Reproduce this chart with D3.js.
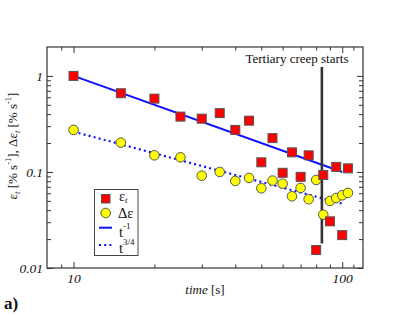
<!DOCTYPE html>
<html>
<head>
<meta charset="utf-8">
<script src="https://cdn.jsdelivr.net/npm/d3@7"></script>
<style>
  body { margin: 0; background: #fff; }
  svg { display: block; }
</style>
</head>
<body>
<svg id="chart" width="409" height="316"></svg>
<script>
// time [s]
const times = [10, 15, 20, 25, 30, 35, 40, 45, 50, 55, 60, 65, 70, 75, 80, 85, 90, 95, 100, 105];
// strain rate eps_t
const epsRate = [1.0, 0.66, 0.58, 0.377, 0.359, 0.41, 0.274, 0.342, 0.126, 0.225,
                 0.098, 0.16, 0.089, 0.149, 0.0154, 0.093, 0.0306, 0.113, 0.022, 0.109];
// delta eps
const deltaEps = [0.274, 0.202, 0.149, 0.142, 0.0915, 0.1, 0.0806, 0.0866, 0.0676, 0.0813,
                  0.0755, 0.0558, 0.0682, 0.052, 0.0826, 0.0359, 0.0499, 0.0536, 0.0572, 0.0605];
// fitted power laws (end points)
const fitMinusOne = [[10, 1.0], [100, 0.1]];
const fitThreeQuarter = [[10, 0.263], [100, 0.0468]];
// onset of tertiary creep
const tertiaryT = 84;
const tertiaryRange = [0.018, 1.24];

const xMajor = [10, 100];
const xMinor = [9, 20, 30, 40, 50, 60, 70, 80, 90, 110];
const yMajor = [0.01, 0.1, 1];
const yMinor = [0.02, 0.03, 0.04, 0.05, 0.06, 0.07, 0.08, 0.09,
                0.2, 0.3, 0.4, 0.5, 0.6, 0.7, 0.8, 0.9];

const serif = '"Liberation Serif", "Times New Roman", Times, "DejaVu Serif", serif';

const svg = d3.select('#chart')
  .attr('font-family', serif);
const pLeft = 47, pRight = 363, pTop = 47, pBottom = 268;

const x = d3.scaleLog().domain([8, 120]).range([pLeft + 0.5, pRight + 0.5]);
const y = d3.scaleLog().domain([0.01, 2]).range([pBottom, pTop]);

const fmt = d => String(d);

// axes: ticks point inward
function styleAxis(g) {
  g.attr('font-family', serif);
  g.select('.domain').remove();
  g.selectAll('line').attr('stroke', '#333');
  g.selectAll('text').attr('font-style', 'italic').attr('font-size', 13.5)
    .attr('fill', '#111');
}

svg.append('g').attr('transform', `translate(0,${pBottom})`)
  .call(d3.axisBottom(x).tickValues(xMajor).tickFormat(fmt).tickSize(-6).tickPadding(5))
  .call(styleAxis);
svg.append('g').attr('transform', `translate(0,${pBottom})`)
  .call(d3.axisBottom(x).tickValues(xMinor).tickFormat('').tickSize(-3.5))
  .call(styleAxis);
svg.append('g').attr('transform', `translate(0,${pTop})`)
  .call(d3.axisTop(x).tickValues(xMajor).tickFormat('').tickSize(-6))
  .call(styleAxis);
svg.append('g').attr('transform', `translate(0,${pTop})`)
  .call(d3.axisTop(x).tickValues(xMinor).tickFormat('').tickSize(-3.5))
  .call(styleAxis);

svg.append('g').attr('transform', `translate(${pLeft},0)`)
  .call(d3.axisLeft(y).tickValues(yMajor).tickFormat(fmt).tickSize(-6).tickPadding(4))
  .call(styleAxis);
svg.append('g').attr('transform', `translate(${pLeft},0)`)
  .call(d3.axisLeft(y).tickValues(yMinor).tickFormat('').tickSize(-4))
  .call(styleAxis);
svg.append('g').attr('transform', `translate(${pRight},0)`)
  .call(d3.axisRight(y).tickValues(yMajor).tickFormat('').tickSize(-6))
  .call(styleAxis);
svg.append('g').attr('transform', `translate(${pRight},0)`)
  .call(d3.axisRight(y).tickValues(yMinor).tickFormat('').tickSize(-4))
  .call(styleAxis);

// frame
svg.append('rect')
  .attr('x', pLeft).attr('y', pTop)
  .attr('width', pRight - pLeft).attr('height', pBottom - pTop)
  .attr('fill', 'none').attr('stroke', '#333').attr('stroke-width', 1.2);

// fit lines
const line = d3.line().x(d => x(d[0])).y(d => y(d[1]));
svg.append('path').datum(fitMinusOne).attr('d', line)
  .attr('fill', 'none').attr('stroke', '#1010ff').attr('stroke-width', 2);
svg.append('path').datum(fitThreeQuarter).attr('d', line)
  .attr('fill', 'none').attr('stroke', '#1010ff').attr('stroke-width', 2.2)
  .attr('stroke-dasharray', '2,3.2');

// tertiary creep marker
svg.append('line')
  .attr('x1', x(tertiaryT)).attr('x2', x(tertiaryT))
  .attr('y1', y(tertiaryRange[1])).attr('y2', y(tertiaryRange[0]))
  .attr('stroke', '#333').attr('stroke-width', 2.6);
svg.append('text').attr('x', 297).attr('y', 63)
  .attr('text-anchor', 'middle').attr('font-size', 13).attr('fill', '#111')
  .text('Tertiary creep starts');

// points
const sq = 9;
svg.append('g').selectAll('circle').data(times).join('circle')
  .attr('cx', d => x(d)).attr('cy', (d, i) => y(deltaEps[i])).attr('r', 4.8)
  .attr('fill', '#ffff00').attr('stroke', '#555').attr('stroke-width', 1);
svg.append('g').selectAll('rect').data(times).join('rect')
  .attr('x', d => x(d) - sq / 2).attr('y', (d, i) => y(epsRate[i]) - sq / 2)
  .attr('width', sq).attr('height', sq)
  .attr('fill', '#ff0000').attr('stroke', '#555').attr('stroke-width', 1);

// legend
const lg = svg.append('g').attr('fill', '#111');
lg.append('rect').attr('x', 94.5).attr('y', 189.5).attr('width', 43.5).attr('height', 66)
  .attr('fill', '#fff').attr('stroke', '#444').attr('stroke-width', 1);
lg.append('rect').attr('x', 101.5).attr('y', 194.5).attr('width', 8.5).attr('height', 8.5)
  .attr('fill', '#ff0000').attr('stroke', '#555');
lg.append('circle').attr('cx', 105.7).attr('cy', 213).attr('r', 4.8)
  .attr('fill', '#ffff00').attr('stroke', '#555');
lg.append('line').attr('x1', 99).attr('x2', 112).attr('y1', 227.7).attr('y2', 227.7)
  .attr('stroke', '#1010ff').attr('stroke-width', 2);
lg.append('line').attr('x1', 99).attr('x2', 113).attr('y1', 245).attr('y2', 245)
  .attr('stroke', '#1010ff').attr('stroke-width', 2.2).attr('stroke-dasharray', '2,3.2');

const t1 = lg.append('text').attr('x', 119).attr('y', 200.5).attr('font-size', 14.5);
t1.append('tspan').text('ε');
t1.append('tspan').attr('font-size', 9).attr('font-style', 'italic').attr('dy', 2).text('t');
lg.append('text').attr('x', 118).attr('y', 217.5).attr('font-size', 14.5).text('Δε');
const t3 = lg.append('text').attr('x', 119).attr('y', 236.5).attr('font-size', 14.5);
t3.append('tspan').text('t');
t3.append('tspan').attr('font-size', 9).attr('dy', -8).text('-1');
const t4 = lg.append('text').attr('x', 119).attr('y', 252.5).attr('font-size', 14.5);
t4.append('tspan').text('t');
t4.append('tspan').attr('font-size', 9).attr('dy', -8).text('3/4');

// axis titles
const xt = svg.append('text').attr('x', 205).attr('y', 294)
  .attr('text-anchor', 'middle').attr('font-size', 13).attr('fill', '#111');
xt.append('tspan').attr('font-style', 'italic').text('time');
xt.append('tspan').text(' [s]');

const yt = svg.append('text').attr('transform', 'translate(17,146) rotate(-90)')
  .attr('text-anchor', 'middle').attr('font-size', 13).attr('fill', '#111');
yt.append('tspan').text('ε');
yt.append('tspan').attr('font-size', 8.5).attr('font-style', 'italic').attr('dy', 3).text('t');
yt.append('tspan').attr('dy', -3).text(' [% s');
yt.append('tspan').attr('font-size', 8.5).attr('dy', -6).text('-1');
yt.append('tspan').attr('dy', 6).text('], Δε');
yt.append('tspan').attr('font-size', 8.5).attr('font-style', 'italic').attr('dy', 3).text('t');
yt.append('tspan').attr('dy', -3).text(' [% s');
yt.append('tspan').attr('font-size', 8.5).attr('dy', -6).text('-1');
yt.append('tspan').attr('dy', 6).text(']');

// panel letter
svg.append('text').attr('x', 4).attr('y', 309).attr('font-size', 17)
  .attr('font-weight', 'bold').attr('fill', '#111').text('a)');
</script>
</body>
</html>
